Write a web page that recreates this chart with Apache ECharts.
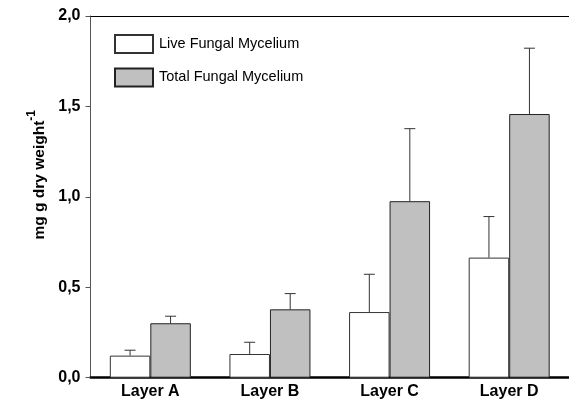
<!DOCTYPE html>
<html>
<head>
<meta charset="utf-8">
<script src="https://cdn.jsdelivr.net/npm/echarts@6/dist/echarts.min.js"></script>
<style>html,body{margin:0;padding:0;background:#fff;}#c{width:569px;height:404px;}</style>
</head>
<body>
<div id="c"></div>
<script>
var categories = ['Layer A', 'Layer B', 'Layer C', 'Layer D'];
var liveValues = [0.122, 0.131, 0.363, 0.664];
var liveErrors = [0.030, 0.065, 0.209, 0.227];
var totalValues = [0.301, 0.378, 0.976, 1.458];
var totalErrors = [0.039, 0.087, 0.401, 0.364];
var yTicks = ['0,0', '0,5', '1,0', '1,5', '2,0'];

var BAR_W = 40.5;
var chart = echarts.init(document.getElementById('c'), null, {renderer: 'canvas'});

function errSeries(name, values, errors, side) {
  return {
    type: 'custom',
    name: name + ' err',
    z: 1,
    silent: true,
    data: values.map(function (v, i) { return [i, v, v + errors[i]]; }),
    renderItem: function (params, api) {
      var base = api.coord([api.value(0), api.value(1)]);
      var top = api.coord([api.value(0), api.value(2)]);
      var x = base[0] + side * BAR_W / 2;
      var capHalf = 5.5;
      return {
        type: 'group',
        children: [
          {type: 'line', shape: {x1: x, y1: base[1], x2: x, y2: top[1]}, style: {stroke: '#333', lineWidth: 1}},
          {type: 'line', shape: {x1: x - capHalf, y1: top[1], x2: x + capHalf, y2: top[1]}, style: {stroke: '#333', lineWidth: 1}}
        ]
      };
    }
  };
}

var option = {
  animation: false,
  backgroundColor: '#fff',
  grid: {left: 90.5, top: 16, width: 484, height: 361.7, containLabel: false},
  legend: {
    orient: 'vertical',
    left: 109, top: 29,
    itemWidth: 38, itemHeight: 18, itemGap: 13.4,
    icon: 'rect',
    data: ['Live Fungal Mycelium', 'Total Fungal Mycelium'],
    textStyle: {fontFamily: 'Liberation Sans, Arial, sans-serif', fontSize: 14.5, color: '#000', padding: [0, 0, 0, 1]}
  },
  xAxis: [{
    type: 'category',
    data: categories,
    axisLine: {lineStyle: {color: '#000', width: 2.5}},
    axisTick: {show: false},
    axisLabel: {fontFamily: 'Liberation Sans, Arial, sans-serif', fontWeight: 'bold', fontSize: 16, color: '#000', margin: 6}
  }, {
    type: 'category',
    position: 'top',
    data: categories,
    axisLine: {lineStyle: {color: '#000', width: 1}},
    axisTick: {show: false},
    axisLabel: {show: false}
  }],
  yAxis: {
    type: 'value',
    min: 0, max: 2, interval: 0.5,
    axisLine: {show: true, lineStyle: {color: '#555', width: 1}},
    axisTick: {show: true, length: 5, lineStyle: {color: '#555'}},
    splitLine: {show: false},
    axisLabel: {
      fontFamily: 'Liberation Sans, Arial, sans-serif', fontWeight: 'bold', fontSize: 16, color: '#000', margin: 10,
      formatter: function (v) { return yTicks[Math.round(v / 0.5)]; }
    }
  },
  graphic: [{
    type: 'text',
    left: 26, top: 110,
    rotation: Math.PI / 2,
    style: {
      text: '{a|mg g dry weight}{s|-1}',
      rich: {
        a: {fontFamily: 'Liberation Sans, Arial, sans-serif', fontWeight: 'bold', fontSize: 15.5, fill: '#000', lineHeight: 22, verticalAlign: 'bottom'},
        s: {fontFamily: 'Liberation Sans, Arial, sans-serif', fontWeight: 'bold', fontSize: 12, fill: '#000', lineHeight: 22, verticalAlign: 'top'}
      }
    }
  }],
  series: [{
    name: 'Live Fungal Mycelium',
    type: 'bar',
    barWidth: BAR_W,
    barGap: '0%',
    z: 2,
    itemStyle: {color: '#fff', borderColor: '#333', borderWidth: 1},
    data: liveValues
  }, {
    name: 'Total Fungal Mycelium',
    type: 'bar',
    barWidth: BAR_W,
    barGap: '0%',
    z: 2,
    itemStyle: {color: '#c0c0c0', borderColor: '#222', borderWidth: 1},
    data: totalValues
  },
  errSeries('Live Fungal Mycelium', liveValues, liveErrors, -1),
  errSeries('Total Fungal Mycelium', totalValues, totalErrors, 1)
  ]
};
chart.setOption(option);
</script>
</body>
</html>
